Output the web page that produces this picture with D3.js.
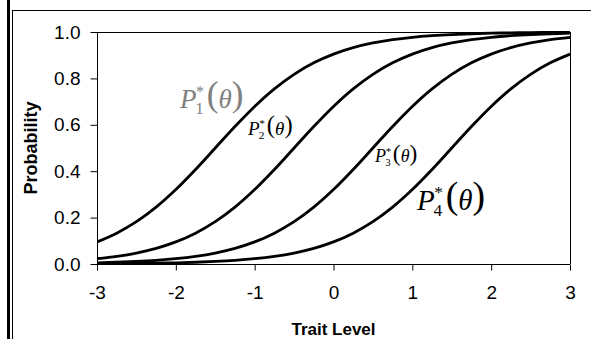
<!DOCTYPE html>
<html>
<head>
<meta charset="utf-8">
<script src="https://cdn.jsdelivr.net/npm/d3@7"></script>
<style>
  html, body { margin: 0; padding: 0; background: #fff; }
  svg { display: block; }
</style>
</head>
<body>
<svg id="chart" width="591" height="339"></svg>
<script>
// ---- data ----
const theta = [-3, -2.75, -2.5, -2.25, -2, -1.75, -1.5, -1.25, -1, -0.75, -0.5, -0.25, 0,
               0.25, 0.5, 0.75, 1, 1.25, 1.5, 1.75, 2, 2.25, 2.5, 2.75, 3];
const p1 = [0.0953, 0.1330, 0.1824, 0.2451, 0.3208, 0.4073, 0.5000, 0.5927, 0.6792, 0.7549, 0.8176, 0.8670, 0.9047,
            0.9325, 0.9526, 0.9669, 0.9770, 0.9841, 0.9890, 0.9924, 0.9948, 0.9964, 0.9975, 0.9983, 0.9988];
const p2 = [0.0230, 0.0331, 0.0474, 0.0675, 0.0953, 0.1330, 0.1824, 0.2451, 0.3208, 0.4073, 0.5000, 0.5927, 0.6792,
            0.7549, 0.8176, 0.8670, 0.9047, 0.9325, 0.9526, 0.9669, 0.9770, 0.9841, 0.9890, 0.9924, 0.9948];
const p3 = [0.0052, 0.0076, 0.0110, 0.0159, 0.0230, 0.0331, 0.0474, 0.0675, 0.0953, 0.1330, 0.1824, 0.2451, 0.3208,
            0.4073, 0.5000, 0.5927, 0.6792, 0.7549, 0.8176, 0.8670, 0.9047, 0.9325, 0.9526, 0.9669, 0.9770];
const p4 = [0.0012, 0.0017, 0.0025, 0.0036, 0.0052, 0.0076, 0.0110, 0.0159, 0.0230, 0.0331, 0.0474, 0.0675, 0.0953,
            0.1330, 0.1824, 0.2451, 0.3208, 0.4073, 0.5000, 0.5927, 0.6792, 0.7549, 0.8176, 0.8670, 0.9047];
const seriesNames = ["1", "2", "3", "4"];
const xTicks = [-3, -2, -1, 0, 1, 2, 3];
const xTickLabels = ["-3", "-2", "-1", "0", "1", "2", "3"];
const yTicks = [0, 0.2, 0.4, 0.6, 0.8, 1.0];
const yTickLabels = ["0.0", "0.2", "0.4", "0.6", "0.8", "1.0"];
const xTitle = "Trait Level";
const yTitle = "Probability";

// ---- layout ----
const svg = d3.select("#chart");
const pL = 97, pR = 570, pT = 32, pB = 264;
const x = d3.scaleLinear().domain([-3, 3]).range([pL, pR]);
const y = d3.scaleLinear().domain([0, 1]).range([pB, pT]);
const sans = "'Liberation Sans', Arial, sans-serif";

// outer frame
svg.append("line").attr("x1", 8.5).attr("x2", 8.5).attr("y1", 0).attr("y2", 339)
  .attr("stroke", "#000").attr("stroke-width", 3);
svg.append("line").attr("x1", 12.5).attr("x2", 12.5).attr("y1", 10).attr("y2", 339)
  .attr("stroke", "#000").attr("stroke-width", 1);
svg.append("line").attr("x1", 12).attr("x2", 591).attr("y1", 10.5).attr("y2", 10.5)
  .attr("stroke", "#000").attr("stroke-width", 1);

// plot box (top & right)
svg.append("line").attr("x1", pL).attr("x2", pR).attr("y1", pT + 0.5).attr("y2", pT + 0.5)
  .attr("stroke", "#000").attr("stroke-width", 1);
svg.append("line").attr("x1", pR + 0.5).attr("x2", pR + 0.5).attr("y1", pT).attr("y2", pB)
  .attr("stroke", "#000").attr("stroke-width", 1);

// axes
const yAxis = d3.axisLeft(y).tickValues(yTicks)
  .tickFormat((d, i) => yTickLabels[i]).tickSize(7).tickPadding(10);
const xAxis = d3.axisBottom(x).tickValues(xTicks)
  .tickFormat((d, i) => xTickLabels[i]).tickSize(6).tickPadding(15);
const ga = svg.append("g").attr("transform", `translate(${pL + 0.5},0)`).call(yAxis);
const gb = svg.append("g").attr("transform", `translate(0,${pB + 0.5})`).call(xAxis);
[ga, gb].forEach(g => {
  g.attr("font-family", sans).attr("font-size", 19);
  g.selectAll("path.domain").attr("stroke", "#000").attr("stroke-width", 1);
  g.selectAll("line").attr("stroke", "#000");
  g.selectAll("text").attr("fill", "#000");
});
gb.select("path.domain").attr("d", `M${pL},0H${pR}`);
ga.select("path.domain").attr("d", `M0,${pT}V${pB}`);

// titles
svg.append("text").attr("x", (pL + pR) / 2).attr("y", 335).attr("text-anchor", "middle")
  .attr("font-family", sans).attr("font-weight", "bold")
  .attr("font-size", 17).text(xTitle);
svg.append("text").attr("transform", `translate(37,${(pT + pB) / 2}) rotate(-90)`)
  .attr("text-anchor", "middle")
  .attr("font-family", sans).attr("font-weight", "bold")
  .attr("font-size", 18).text(yTitle);

// curves
const series = [p1, p2, p3, p4];
svg.append("clipPath").attr("id", "clip").append("rect")
  .attr("x", pL).attr("y", pT - 2).attr("width", pR - pL + 1).attr("height", pB - pT + 3);
const line = d3.line().x((d, i) => x(theta[i])).y(d => y(d)).curve(d3.curveCatmullRom);
svg.append("g").attr("clip-path", "url(#clip)").selectAll("path").data(series).join("path")
  .attr("d", d => line(d)).attr("fill", "none").attr("stroke", "#000")
  .attr("stroke-width", 2.8).attr("stroke-linejoin", "round");

// labels P_k^*(θ)
const labelSpec = [
  { k: seriesNames[0], x: 180, y: 108, s: 27, c: "#808080" },
  { k: seriesNames[1], x: 248, y: 135, s: 19, c: "#000" },
  { k: seriesNames[2], x: 375, y: 162, s: 18, c: "#000" },
  { k: seriesNames[3], x: 417, y: 210, s: 29, c: "#000" }
];
labelSpec.forEach(L => {
  const t = svg.append("text").attr("x", L.x).attr("y", L.y)
    .attr("font-family", "'Liberation Serif', 'Times New Roman', serif")
    .attr("font-size", L.s).attr("fill", L.c);
  t.append("tspan").attr("font-style", "italic").text("P");
  t.append("tspan").attr("font-size", L.s * 0.6).attr("dy", L.s * 0.22).attr("dx", -L.s * 0.04).text(L.k);
  t.append("tspan").attr("font-size", L.s * 0.6).attr("dx", -L.s * 0.28).attr("dy", -L.s * 0.62).text("*");
  t.append("tspan").attr("font-size", L.s * 1.3).attr("font-weight", 300)
    .attr("dy", L.s * 0.32).attr("dx", L.s * 0.1).text("(");
  t.append("tspan").attr("font-style", "italic").attr("dy", L.s * 0.08).text("θ");
  t.append("tspan").attr("font-size", L.s * 1.3).attr("dy", -L.s * 0.08).text(")");
});
</script>
</body>
</html>
